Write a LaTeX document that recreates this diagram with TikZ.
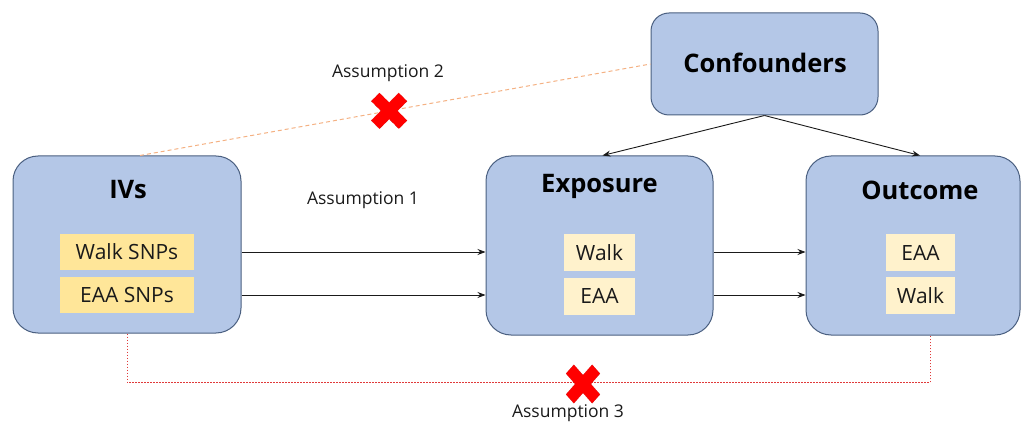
\documentclass[tikz,border=0pt]{standalone}
\usepackage{fontspec}
\setmainfont{Open Sans}
\usetikzlibrary{arrows.meta}
\definecolor{boxfill}{HTML}{B4C7E7}
\definecolor{boxline}{HTML}{4A5F80}
\definecolor{snpfill}{HTML}{FFE699}
\definecolor{varfill}{HTML}{FFF2CC}
\definecolor{orangeline}{HTML}{F4B183}
\definecolor{dotred}{HTML}{E03A3A}
\definecolor{ink}{HTML}{1A1A1A}
\tikzset{
  bigbox/.style={draw=boxline, fill=boxfill, line width=1pt, rounded corners=25pt, inner sep=0pt},
  headlabel/.style={font=\fontsize{25.5}{30}\selectfont\bfseries, text=black, inner sep=0pt},
  snpbox/.style={fill=snpfill, minimum width=134pt, minimum height=36pt, inner sep=0pt,
    font=\fontsize{21}{24}\selectfont, text=ink},
  varbox/.style={fill=varfill, minimum height=37pt, inner sep=0pt,
    font=\fontsize{21}{24}\selectfont, text=ink},
  note/.style={font=\fontsize{17.5}{21}\selectfont, text=ink, inner sep=0pt},
  arr/.style={draw=ink, line width=0.9pt, -{Stealth[length=8pt,width=6pt]}},
  orangedash/.style={draw=orangeline, line width=1pt, dash pattern=on 4pt off 3pt},
  reddots/.style={draw=dotred, line width=1pt, dash pattern=on 1.5pt off 1.5pt},
  redcross/.pic={
    \filldraw[fill=red, draw=red!75!black, line width=0.03pt, rotate=45]
      (-0.3,-1) -- (0.3,-1) -- (0.3,-0.3) -- (1,-0.3) -- (1,0.3) -- (0.3,0.3)
      -- (0.3,1) -- (-0.3,1) -- (-0.3,0.3) -- (-1,0.3) -- (-1,-0.3) -- (-0.3,-0.3) -- cycle;
  }
}
\begin{document}
\begin{tikzpicture}[x=1pt, y=-1pt]
\useasboundingbox (0,0) rectangle (1023,425);

% main boxes
\node[bigbox, minimum width=228pt, minimum height=177pt] (ivs) at (127,244.5) {};
\node[bigbox, minimum width=227pt, minimum height=179pt] (exp) at (599.5,245.5) {};
\node[bigbox, minimum width=214pt, minimum height=179pt] (out) at (913,245.5) {};
\node[bigbox, rounded corners=18pt, minimum width=227pt, minimum height=102pt] (conf) at (764.5,64) {};

% headings
\node[headlabel] (ivlabel) at (128,190) {IVs};
\node[headlabel] (explabel) at (599.5,186) {Exposure};
\node[headlabel] (outlabel) at (920,190) {Outcome};
\node[headlabel] (conflabel) at (765,63) {Confounders};

% inner variable boxes
\node[snpbox] (snpwalk) at (127,252) {Walk SNPs};
\node[snpbox] (snpeaa) at (127,295) {EAA SNPs};
\node[varbox, minimum width=71pt] (expwalk) at (599.5,252.5) {Walk};
\node[varbox, minimum width=71pt] (expeaa) at (599.5,296) {EAA};
\node[varbox, minimum width=69pt] (outeaa) at (920.5,252.5) {EAA};
\node[varbox, minimum width=69pt] (outwalk) at (920.5,295.5) {Walk};

% causal arrows
\draw[arr] (ivs.east |- snpwalk.center) -- (exp.west |- snpwalk.center);
\draw[arr] (ivs.east |- snpeaa.center) -- (exp.west |- snpeaa.center);
\draw[arr] (exp.east |- snpwalk.center) -- (out.west |- snpwalk.center);
\draw[arr] (exp.east |- snpeaa.center) -- (out.west |- snpeaa.center);
\draw[arr] (conf.south) -- ([xshift=3pt]exp.north);
\draw[arr] (conf.south) -- (out.north -| outlabel.center);

% assumption 2: no link between IVs and confounders
\draw[orangedash] ([xshift=13pt]ivs.north) -- (conf.west)
  pic[pos=0.488, scale=19.5] {redcross};

% assumption 3: no direct path from IVs to outcome
\draw[reddots] (ivs.south) -- ++(0,49) -| ([xshift=17pt]out.south);
\pic[xscale=18.5, yscale=21] at (583,384) {redcross};

% labels
\node[note] (a1) at (363,200) {Assumption 1};
\node[note] (a2) at (388,73) {Assumption 2};
\node[note] (a3) at (568,413) {Assumption 3};
\end{tikzpicture}
\end{document}
